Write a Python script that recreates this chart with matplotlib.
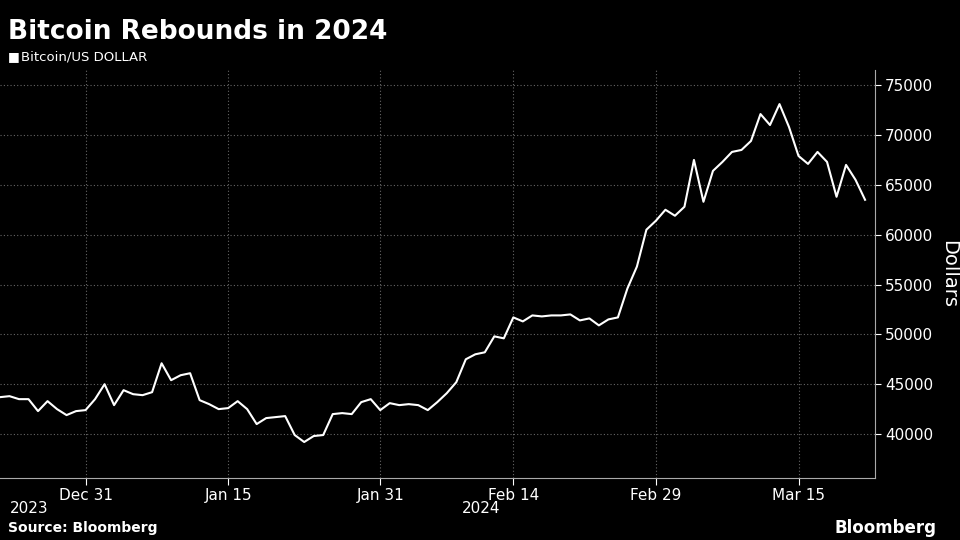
import numpy as np
import matplotlib
matplotlib.use("Agg")
import matplotlib.pyplot as plt

START = np.datetime64("2023-12-22")
prices = [43700, 43800, 43500, 43500, 42300, 43300, 42500, 41900, 42300, 42400,
          43500, 45000, 42900, 44400, 44000, 43900, 44200, 47100, 45400, 45900,
          46100, 43400, 43000, 42500, 42600, 43300, 42500, 41000, 41600, 41700,
          41800, 39900, 39200, 39800, 39900, 42000, 42100, 42000, 43200, 43500,
          42400, 43100, 42900, 43000, 42900, 42400, 43200, 44100, 45200, 47500,
          48000, 48200, 49800, 49600, 51700, 51300, 51900, 51800, 51900, 51900,
          52000, 51400, 51600, 50900, 51500, 51700, 54600, 56800, 60500, 61400,
          62500, 61900, 62800, 67500, 63300, 66400, 67300, 68300, 68500, 69400,
          72100, 71000, 73100, 70800, 67900, 67100, 68300, 67300, 63800, 67000,
          65500, 63500]
dates = START + np.arange(len(prices))
tick_dates = ["2023-12-31", "2024-01-15", "2024-01-31", "2024-02-14", "2024-02-29", "2024-03-15"]
tick_labels = ["Dec 31", "Jan 15", "Jan 31", "Feb 14", "Feb 29", "Mar 15"]
yticks = list(range(40000, 75001, 5000))

fig = plt.figure(figsize=(9.6, 5.4), dpi=100, facecolor="black")
ax = fig.add_axes([0.0, 0.115, 0.911, 0.755], facecolor="black")
x = dates.astype("datetime64[D]").astype(object)
ax.plot(x, prices, color="white", lw=1.5)
ax.set_xlim(x[0], x[-1] + (x[-1] - x[0]) * 0.02)
ax.set_ylim(35600, 76500)

tx = [np.datetime64(d).astype(object) for d in tick_dates]
ax.set_xticks(tx)
ax.set_xticklabels(tick_labels)
ax.set_yticks(yticks)
ax.yaxis.tick_right()
ax.yaxis.set_label_position("right")
ax.set_ylabel("Dollars", color="white", fontsize=14, rotation=270, labelpad=18)
ax.tick_params(colors="white", labelsize=11, length=4)
ax.tick_params(axis="x", length=5, pad=2)
ax.grid(True, color="#666666", ls=(0, (1, 2)), lw=0.8)
for s in ["top", "left"]:
    ax.spines[s].set_visible(False)
ax.spines["right"].set_color("#aaaaaa")
ax.spines["bottom"].set_color("#aaaaaa")

fig.text(0.008, 0.94, "Bitcoin Rebounds in 2024", color="white", fontsize=19,
         fontweight="bold", va="center")
fig.text(0.008, 0.895, "\u25a0", color="white", fontsize=9, va="center")
fig.text(0.022, 0.895, "Bitcoin/US DOLLAR", color="white", fontsize=9.5, va="center")
fig.text(0.01, 0.058, "2023", color="white", fontsize=11, va="center")
fig.text(0.481, 0.058, "2024", color="white", fontsize=11, va="center")
fig.text(0.008, 0.022, "Source: Bloomberg", color="white", fontsize=10,
         fontweight="bold", va="center")
fig.text(0.975, 0.022, "Bloomberg", color="white", fontsize=12,
         fontweight="bold", va="center", ha="right")
fig.savefig("out.png", dpi=100, facecolor="black")
